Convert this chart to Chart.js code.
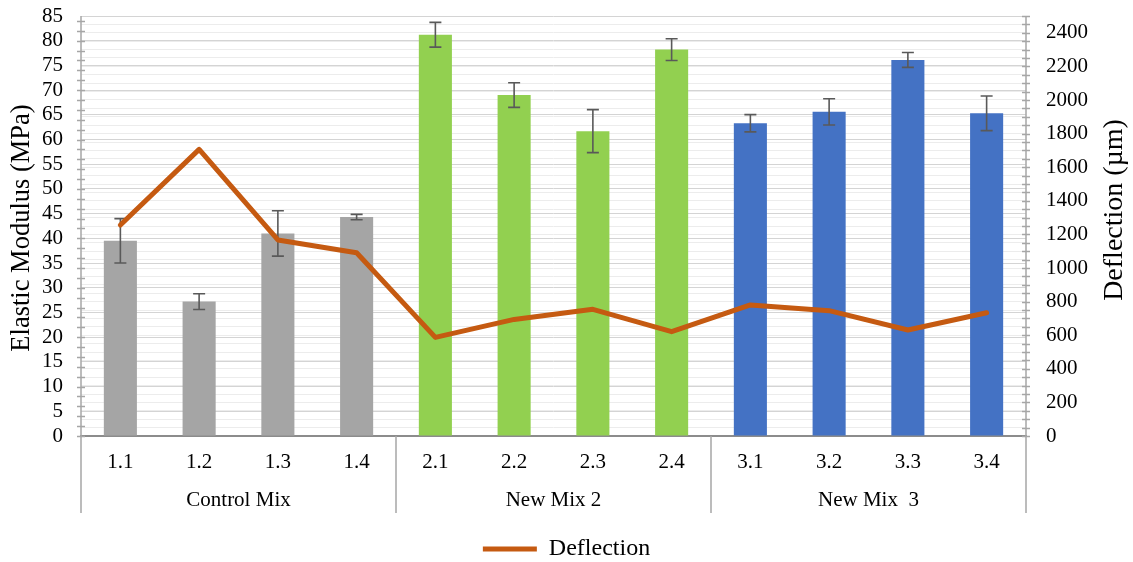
<!DOCTYPE html>
<html>
<head>
<meta charset="utf-8">
<script src="https://cdn.jsdelivr.net/npm/chart.js@4/dist/chart.umd.min.js"></script>
<style>
  html, body { margin: 0; padding: 0; background: #ffffff; }
  #wrap { width: 1133px; height: 562px; }
</style>
</head>
<body>
<div id="wrap"><canvas id="chart" width="1133" height="562"></canvas></div>
<script>
// Specimens, grouped by mix
const categories = ['1.1', '1.2', '1.3', '1.4', '2.1', '2.2', '2.3', '2.4', '3.1', '3.2', '3.3', '3.4'];
const groupNames = ['Control Mix', 'New Mix 2', 'New Mix  3'];
const groupSizes = [4, 4, 4];
const groupColors = ['#A5A5A5', '#92D050', '#4472C4'];

// Elastic modulus (MPa) with its error (±)
const modulus = [39.5, 27.2, 41.0, 44.3, 81.2, 69.0, 61.7, 78.2, 63.3, 65.6, 76.1, 65.3];
const modulusError = [4.5, 1.6, 4.6, 0.55, 2.5, 2.5, 4.35, 2.2, 1.75, 2.65, 1.5, 3.5];

// Deflection (µm)
const deflection = [1256, 1706, 1167, 1091, 587, 694, 754, 621, 780, 746, 631, 734];

// Axis ranges
const modulusAxis = { min: 0, max: 85, step: 5, minor: 2 };
const deflectionAxis = { min: 0, max: 2500, step: 200, minor: 50 };

const FONT = "'Liberation Serif', 'Times New Roman', serif";
const TEXT = '#000000';

const barColors = [];
groupSizes.forEach((n, g) => { for (let i = 0; i < n; i++) barColors.push(groupColors[g]); });

const decor = {
  id: 'decor',
  afterDatasetDraw(chart, args) {
    if (args.meta.type !== 'bar') return;
    const ctx = chart.ctx;
    const y = chart.scales.y;
    ctx.save();
    ctx.strokeStyle = '#595959';
    ctx.lineWidth = 1.6;
    args.meta.data.forEach((bar, i) => {
      const x = bar.x;
      const top = y.getPixelForValue(modulus[i] + modulusError[i]);
      const bot = y.getPixelForValue(modulus[i] - modulusError[i]);
      ctx.beginPath();
      ctx.moveTo(x, top); ctx.lineTo(x, bot);
      ctx.moveTo(x - 6, top); ctx.lineTo(x + 6, top);
      ctx.moveTo(x - 6, bot); ctx.lineTo(x + 6, bot);
      ctx.stroke();
    });
    ctx.restore();
  },
  afterDraw(chart) {
    const ctx = chart.ctx;
    const area = chart.chartArea;
    const xs = chart.scales.x, y = chart.scales.y, y2 = chart.scales.y2;
    const lowEdge = area.bottom + 77;
    ctx.save();

    // cross ticks on both value axes
    ctx.strokeStyle = '#a6a6a6';
    ctx.lineWidth = 1.5;
    ctx.beginPath();
    for (let v = modulusAxis.min; v <= modulusAxis.max; v += modulusAxis.minor) {
      const p = Math.round(y.getPixelForValue(v)) + 0.5;
      ctx.moveTo(area.left - 4, p); ctx.lineTo(area.left + 4, p);
    }
    for (let v = deflectionAxis.min; v <= deflectionAxis.max; v += deflectionAxis.minor) {
      const p = Math.round(y2.getPixelForValue(v)) + 0.5;
      ctx.moveTo(area.right - 4, p); ctx.lineTo(area.right + 4, p);
    }
    ctx.stroke();

    // value axes, running down through the category band
    ctx.beginPath();
    ctx.moveTo(area.left, area.top); ctx.lineTo(area.left, lowEdge);
    ctx.moveTo(area.right, area.top); ctx.lineTo(area.right, lowEdge);

    // group dividers below the category axis
    const edges = [area.left];
    let idx = 0;
    groupSizes.forEach((n, g) => {
      idx += n;
      if (g < groupSizes.length - 1) {
        const e = (xs.getPixelForTick(idx - 1) + xs.getPixelForTick(idx)) / 2;
        edges.push(e);
        ctx.moveTo(e, area.bottom); ctx.lineTo(e, lowEdge);
      }
    });
    edges.push(area.right);
    ctx.stroke();

    // group names
    ctx.fillStyle = TEXT;
    ctx.font = `21px ${FONT}`;
    ctx.textAlign = 'center';
    ctx.textBaseline = 'middle';
    for (let g = 0; g < groupNames.length; g++) {
      ctx.fillText(groupNames[g], (edges[g] + edges[g + 1]) / 2, area.bottom + 64);
    }

    // axis titles
    ctx.font = `26.5px ${FONT}`;
    ctx.save();
    ctx.translate(22.5, (area.top + area.bottom) / 2 + 2);
    ctx.rotate(-Math.PI / 2);
    ctx.fillText('Elastic Modulus (MPa)', 0, 0);
    ctx.restore();
    ctx.font = `28px ${FONT}`;
    ctx.save();
    ctx.translate(1115, 210);
    ctx.rotate(-Math.PI / 2);
    ctx.fillText('Deflection (µm)', 0, 0);
    ctx.restore();

    ctx.restore();
  }
};

function noPad(s) {
  s.paddingTop = 0; s.paddingBottom = 0; s.paddingLeft = 0; s.paddingRight = 0;
}

new Chart(document.getElementById('chart'), {
  data: {
    labels: categories,
    datasets: [
      {
        type: 'line',
        label: 'Deflection',
        data: deflection,
        yAxisID: 'y2',
        order: 0,
        borderColor: '#C55A11',
        backgroundColor: '#C55A11',
        borderWidth: 5,
        borderCapStyle: 'round',
        borderJoinStyle: 'round',
        pointRadius: 0,
        pointHoverRadius: 0,
        pointStyle: 'line',
        tension: 0,
        fill: false
      },
      {
        type: 'bar',
        label: 'Elastic Modulus',
        data: modulus,
        yAxisID: 'y',
        order: 1,
        backgroundColor: barColors,
        borderWidth: 0,
        categoryPercentage: 1,
        barPercentage: 0.42
      }
    ]
  },
  options: {
    responsive: false,
    animation: false,
    devicePixelRatio: 1,
    layout: { padding: { top: 16, left: 0, right: 0, bottom: 0 } },
    plugins: {
      tooltip: { enabled: false },
      legend: {
        position: 'bottom',
        maxHeight: 49,
        labels: {
          usePointStyle: true,
          pointStyleWidth: 54,
          padding: 24,
          color: TEXT,
          font: { family: FONT, size: 24 },
          filter: item => item.text === 'Deflection'
        }
      }
    },
    scales: {
      x: {
        type: 'category',
        grid: { display: false, drawTicks: false },
        border: { display: true, color: '#8c8c8c', width: 2 },
        ticks: { color: TEXT, font: { family: FONT, size: 21 }, padding: 14, maxRotation: 0, autoSkip: false },
        afterFit(s) { s.height = 77; noPad(s); }
      },
      y: {
        type: 'linear',
        position: 'left',
        min: modulusAxis.min,
        max: modulusAxis.max,
        grid: { color: '#d4d4d4', lineWidth: 1, drawTicks: false, z: -1 },
        border: { display: false },
        ticks: { stepSize: modulusAxis.step, color: TEXT, font: { family: FONT, size: 21 }, padding: 18, autoSkip: false },
        afterFit(s) { s.width = 81; noPad(s); }
      },
      y2: {
        type: 'linear',
        position: 'right',
        min: deflectionAxis.min,
        max: deflectionAxis.max,
        grid: { color: '#ececec', lineWidth: 1, drawTicks: false, z: -2 },
        border: { display: false },
        ticks: {
          stepSize: deflectionAxis.minor,
          includeBounds: false,
          autoSkip: false,
          color: TEXT,
          font: { family: FONT, size: 21 },
          padding: 20,
          callback: v => (v % deflectionAxis.step === 0 ? String(v) : '')
        },
        afterFit(s) { s.width = 107; noPad(s); }
      }
    }
  },
  plugins: [decor]
});
</script>
</body>
</html>
